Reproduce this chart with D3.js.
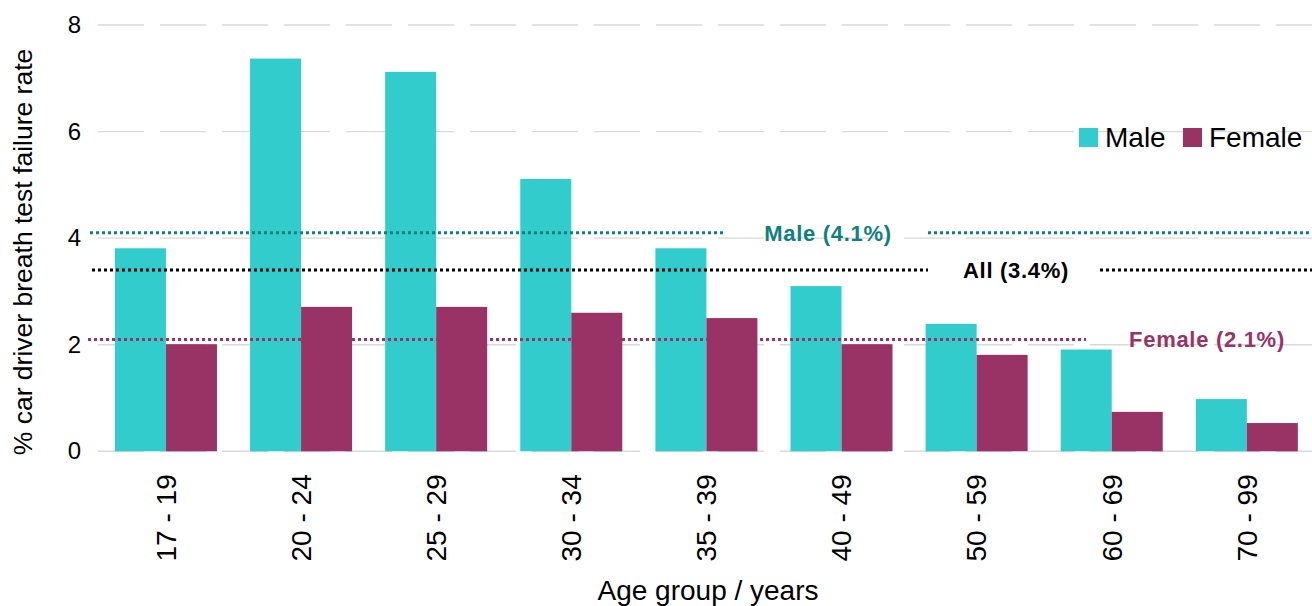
<!DOCTYPE html>
<html>
<head>
<meta charset="utf-8">
<script src="https://cdn.jsdelivr.net/npm/d3@7/dist/d3.min.js"></script>
<style>
  html, body { margin: 0; padding: 0; background: #fff; }
  svg { display: block; }
  text { font-family: Arial, "Liberation Sans", sans-serif; fill: #000; }
</style>
</head>
<body>
<svg id="chart" width="1312" height="606"></svg>
<script>
// Age groups on the x axis
const ageGroups = ["17 - 19", "20 - 24", "25 - 29", "30 - 34", "35 - 39", "40 - 49", "50 - 59", "60 - 69", "70 - 99"];
// % of car drivers failing a breath test, by sex
const maleRates   = [3.81, 7.37, 7.12, 5.11, 3.81, 3.10, 2.39, 1.91, 0.98];
const femaleRates = [2.01, 2.71, 2.71, 2.60, 2.50, 2.01, 1.81, 0.74, 0.53];
const seriesNames = ["Male", "Female"];
// Overall averages drawn as reference lines
const averageNames  = ["Male", "All", "Female"];
const averageValues = [4.1, 3.4, 2.1];
const averageLabels = ["Male (4.1%)", "All (3.4%)", "Female (2.1%)"];
const yTicks = [0, 2, 4, 6, 8];

const colors = { Male: "#33CCCC", Female: "#993366" };
const refColors = { Male: "#0F8080", All: "#000000", Female: "#993366" };

const svg = d3.select("#chart");

const x = d3.scaleBand()
  .domain(ageGroups)
  .range([98.4, 1314.4])
  .paddingInner(0.245)
  .paddingOuter(0.1225);

const xs = d3.scaleBand()
  .domain(seriesNames)
  .range([0, x.bandwidth()]);

const y = d3.scaleLinear()
  .domain([0, 8])
  .range([451.3, 25]);

// Dashed horizontal gridlines
svg.append("g")
  .selectAll("line")
  .data(yTicks)
  .join("line")
  .attr("x1", 98)
  .attr("x2", 1312)
  .attr("y1", d => y(d))
  .attr("y2", d => y(d))
  .attr("stroke", "#d9d9d9")
  .attr("stroke-width", 1.4)
  .attr("stroke-dasharray", "46,16");

// Y axis (labels only)
const yAxis = svg.append("g")
  .attr("transform", "translate(89,0)")
  .call(d3.axisLeft(y).tickValues(yTicks).tickFormat(d3.format("d")).tickSize(0).tickPadding(8));
yAxis.select(".domain").remove();
yAxis.selectAll("text")
  .attr("font-size", 24)
  .attr("font-family", "Arial, 'Liberation Sans', sans-serif")
  .attr("fill", "#000");

// Bars
const rows = ageGroups.map((g, i) => ({ group: g, Male: maleRates[i], Female: femaleRates[i] }));
svg.append("g")
  .selectAll("g")
  .data(rows)
  .join("g")
  .attr("transform", d => `translate(${x(d.group)},0)`)
  .selectAll("rect")
  .data(d => seriesNames.map(s => ({ s, v: d[s] })))
  .join("rect")
  .attr("x", d => xs(d.s))
  .attr("width", xs.bandwidth())
  .attr("y", d => y(d.v))
  .attr("height", d => y(0) - y(d.v))
  .attr("fill", d => colors[d.s]);

// X axis (labels only, rotated)
const xAxis = svg.append("g")
  .attr("transform", `translate(0,${y(0)})`)
  .call(d3.axisBottom(x).tickSize(0).tickPadding(0));
xAxis.select(".domain").remove();
xAxis.selectAll("text")
  .attr("font-size", 28)
  .attr("font-family", "Arial, 'Liberation Sans', sans-serif")
  .attr("fill", "#000")
  .attr("transform", "rotate(-90)")
  .attr("text-anchor", "end")
  .attr("x", -23)
  .attr("y", 0)
  .attr("dy", "0.35em");

// Average reference lines with their labels set into a gap
const refLayout = {
  Male:   { segments: [[90, 723], [928, 1312]], labelX: 828 },
  All:    { segments: [[92, 928], [1100, 1312]], labelX: 1016 },
  Female: { segments: [[88, 1086]], labelX: 1207 }
};
const refs = averageNames.map((n, i) => ({ name: n, value: averageValues[i], label: averageLabels[i] }));
const refG = svg.append("g")
  .selectAll("g")
  .data(refs)
  .join("g");
refG.selectAll("line")
  .data(d => refLayout[d.name].segments.map(seg => ({ seg, d })))
  .join("line")
  .attr("x1", e => e.seg[0])
  .attr("x2", e => e.seg[1])
  .attr("y1", e => y(e.d.value))
  .attr("y2", e => y(e.d.value))
  .attr("stroke", e => refColors[e.d.name])
  .attr("stroke-width", 3)
  .attr("stroke-dasharray", "3,3");
refG.append("text")
  .attr("x", d => refLayout[d.name].labelX)
  .attr("y", d => y(d.value))
  .attr("dy", "0.36em")
  .attr("text-anchor", "middle")
  .attr("font-size", 22)
  .attr("font-weight", "bold")
  .attr("letter-spacing", 0.7)
  .style("fill", d => refColors[d.name])
  .text(d => d.label);

// Legend
const legendPos = { Male: 1079, Female: 1183 };
const legend = svg.append("g")
  .selectAll("g")
  .data(seriesNames)
  .join("g")
  .attr("transform", d => `translate(${legendPos[d]},128)`);
legend.append("rect")
  .attr("width", 19)
  .attr("height", 19)
  .attr("fill", d => colors[d]);
legend.append("text")
  .attr("x", 26)
  .attr("y", 18.5)
  .attr("font-size", 28)
  .text(d => d);

// Axis titles
svg.append("text")
  .attr("x", 708)
  .attr("y", 600)
  .attr("text-anchor", "middle")
  .attr("font-size", 28)
  .text("Age group / years");

svg.append("text")
  .attr("transform", "translate(32,252) rotate(-90)")
  .attr("text-anchor", "middle")
  .attr("font-size", 26.5)
  .text("% car driver breath test failure rate");
</script>
</body>
</html>
